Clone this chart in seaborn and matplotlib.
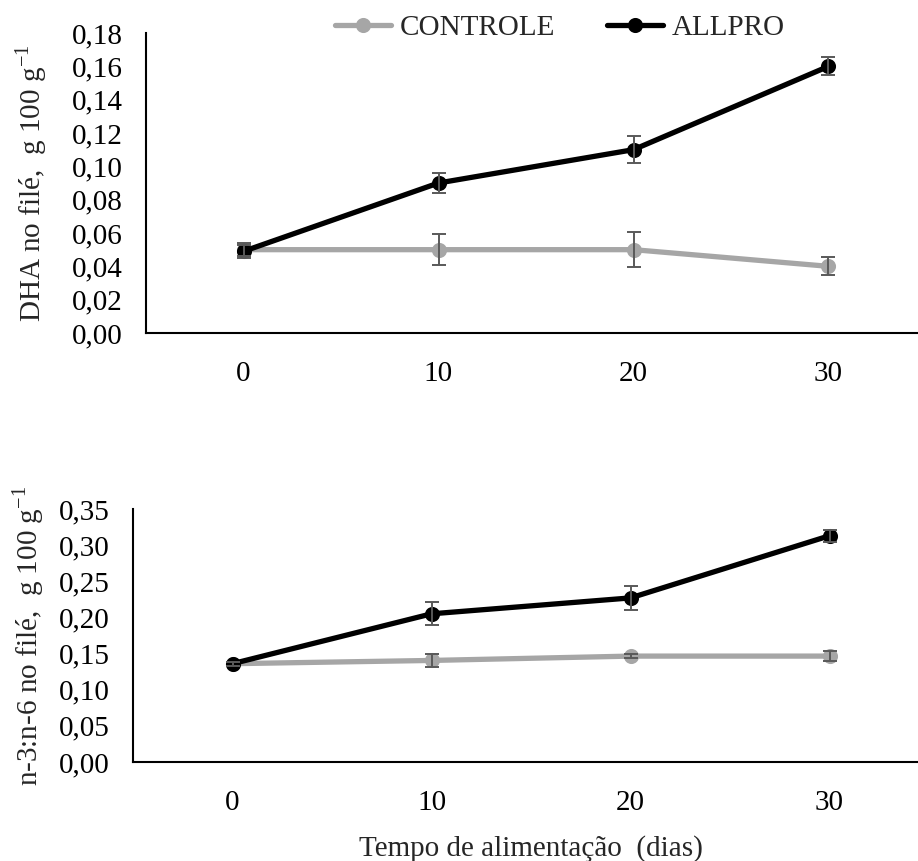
import numpy as np
import pandas as pd
import matplotlib
matplotlib.use("Agg")
import matplotlib.pyplot as plt
import seaborn as sns
from matplotlib.ticker import FuncFormatter

sns.set_style("white")
plt.rcParams['font.family'] = ['Liberation Serif', 'DejaVu Serif']
plt.rcParams['mathtext.fontset'] = 'custom'
plt.rcParams['mathtext.rm'] = 'Liberation Serif'

dias = ["0", "10", "20", "30"]
grupos = ["CONTROLE", "ALLPRO"]

dha_controle = [0.050, 0.050, 0.050, 0.040]
dha_allpro = [0.049, 0.090, 0.110, 0.160]
dha_controle_err = [0.004, 0.0092, 0.0106, 0.0054]
dha_allpro_err = [0.004, 0.0062, 0.0080, 0.0053]

n3n6_controle = [0.136, 0.1405, 0.1465, 0.1465]
n3n6_allpro = [0.136, 0.205, 0.227, 0.313]
n3n6_controle_err = [0.003, 0.009, 0.003, 0.007]
n3n6_allpro_err = [0.003, 0.016, 0.0165, 0.008]

cores = {"CONTROLE": "#A6A6A6", "ALLPRO": "#000000"}
err_color = "#595959"
FS = 21

fig = plt.figure(figsize=(9.18, 8.61), dpi=100)
W, H = 918, 861

def add_ax(left, right, top, bottom):
    return fig.add_axes([left / W, 1 - bottom / H, (right - left) / W, (bottom - top) / H])

ax1 = add_ax(146, 926, 33, 333)
ax2 = add_ax(133, 929, 509, 762)

def draw(ax, ctrl, allp, ctrl_err, allp_err, ymax, step, ylabel, lpad):
    df = pd.DataFrame({
        "dia": dias * 2,
        "valor": ctrl + allp,
        "grupo": ["CONTROLE"] * 4 + ["ALLPRO"] * 4,
    })
    sns.pointplot(data=df, x="dia", y="valor", hue="grupo", order=dias,
                  hue_order=grupos, palette=cores, markers="o", linestyles="-",
                  errorbar=None, linewidth=3.8, markersize=8, ax=ax)
    for vals, errs in ((ctrl, ctrl_err), (allp, allp_err)):
        ax.errorbar(np.arange(len(dias)), vals, yerr=errs, fmt="none",
                    ecolor=err_color, elinewidth=1.4, capsize=5, capthick=1.4,
                    zorder=5)
    ax.set_xlim(-0.5, 3.5)
    ax.set_ylim(0, ymax)
    ax.set_yticks(np.arange(0, ymax + 1e-9, step))
    ax.yaxis.set_major_formatter(FuncFormatter(lambda v, p: f"{v:.2f}".replace(".", ",")))
    ax.tick_params(axis="both", length=0, labelsize=FS, colors="black")
    ax.tick_params(axis="x", pad=20)
    ax.tick_params(axis="y", pad=17)
    for s in ("top", "right"):
        ax.spines[s].set_visible(False)
    for s in ("left", "bottom"):
        ax.spines[s].set_color("black")
        ax.spines[s].set_linewidth(1.5)
    ax.set_xlabel("")
    ax.set_ylabel(ylabel, fontsize=FS, labelpad=lpad)
    leg = ax.get_legend()
    if leg is not None:
        leg.remove()

draw(ax1, dha_controle, dha_allpro, dha_controle_err, dha_allpro_err, 0.18, 0.02,
     r"DHA no filé,  g 100 g$^{\mathregular{-1}}$", 16)
draw(ax2, n3n6_controle, n3n6_allpro, n3n6_controle_err, n3n6_allpro_err, 0.35, 0.05,
     r"n-3:n-6 no filé,  g 100 g$^{\mathregular{-1}}$", 9)

ax2.set_xlabel("Tempo de alimentação  (dias)", fontsize=FS, labelpad=14)

handles, labels = ax1.get_legend_handles_labels()
fig.legend(handles[:2], labels[:2], loc="center", bbox_to_anchor=(560 / W, 1 - 28 / H),
           ncol=2, frameon=False, fontsize=FS, handlelength=1.9, handletextpad=0.3,
           columnspacing=1.8)

fig.savefig("out.png", dpi=100)
